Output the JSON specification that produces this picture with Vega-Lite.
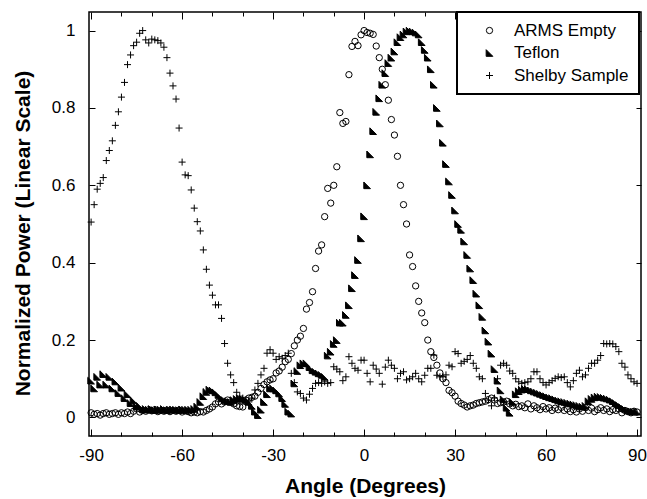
{
"$schema": "https://vega.github.io/schema/vega-lite/v6.json",
"width": 552, "height": 424,
"autosize": "none",
"padding": {"left": 89, "top": 12, "right": 6, "bottom": 63},
"background": "white",
"config": {"view": {"stroke": "black", "strokeWidth": 1.5}, "font": "Liberation Sans", "legend": {"strokeWidth": 2, "labelFontSize": 17, "labelLimit": 0, "symbolOffset": 14, "labelOffset": 16}},
"data": {"values": [
{"angle":-90,"ARMS Empty":0.012,"Teflon":0.095,"Shelby Sample":0.505},
{"angle":-89,"ARMS Empty":0.008,"Teflon":0.075,"Shelby Sample":0.55},
{"angle":-88,"ARMS Empty":0.01,"Teflon":0.105,"Shelby Sample":0.59},
{"angle":-87,"ARMS Empty":0.006,"Teflon":0.085,"Shelby Sample":0.605},
{"angle":-86,"ARMS Empty":0.01,"Teflon":0.112,"Shelby Sample":0.62},
{"angle":-85,"ARMS Empty":0.012,"Teflon":0.085,"Shelby Sample":0.664},
{"angle":-84,"ARMS Empty":0.008,"Teflon":0.105,"Shelby Sample":0.69},
{"angle":-83,"ARMS Empty":0.01,"Teflon":0.075,"Shelby Sample":0.715},
{"angle":-82,"ARMS Empty":0.012,"Teflon":0.093,"Shelby Sample":0.755},
{"angle":-81,"ARMS Empty":0.008,"Teflon":0.063,"Shelby Sample":0.79},
{"angle":-80,"ARMS Empty":0.012,"Teflon":0.077,"Shelby Sample":0.828},
{"angle":-79,"ARMS Empty":0.01,"Teflon":0.05,"Shelby Sample":0.866},
{"angle":-78,"ARMS Empty":0.014,"Teflon":0.06,"Shelby Sample":0.912},
{"angle":-77,"ARMS Empty":0.01,"Teflon":0.037,"Shelby Sample":0.937},
{"angle":-76,"ARMS Empty":0.016,"Teflon":0.044,"Shelby Sample":0.961},
{"angle":-75,"ARMS Empty":0.022,"Teflon":0.028,"Shelby Sample":0.97},
{"angle":-74,"ARMS Empty":0.014,"Teflon":0.03,"Shelby Sample":0.993},
{"angle":-73,"ARMS Empty":0.018,"Teflon":0.021,"Shelby Sample":1.0},
{"angle":-72,"ARMS Empty":0.016,"Teflon":0.022,"Shelby Sample":0.976},
{"angle":-71,"ARMS Empty":0.02,"Teflon":0.02,"Shelby Sample":0.968},
{"angle":-70,"ARMS Empty":0.017,"Teflon":0.022,"Shelby Sample":0.978},
{"angle":-69,"ARMS Empty":0.02,"Teflon":0.019,"Shelby Sample":0.976},
{"angle":-68,"ARMS Empty":0.015,"Teflon":0.021,"Shelby Sample":0.974},
{"angle":-67,"ARMS Empty":0.018,"Teflon":0.02,"Shelby Sample":0.968},
{"angle":-66,"ARMS Empty":0.016,"Teflon":0.022,"Shelby Sample":0.957},
{"angle":-65,"ARMS Empty":0.019,"Teflon":0.019,"Shelby Sample":0.93},
{"angle":-64,"ARMS Empty":0.015,"Teflon":0.02,"Shelby Sample":0.89},
{"angle":-63,"ARMS Empty":0.018,"Teflon":0.021,"Shelby Sample":0.857},
{"angle":-62,"ARMS Empty":0.016,"Teflon":0.02,"Shelby Sample":0.823},
{"angle":-61,"ARMS Empty":0.019,"Teflon":0.019,"Shelby Sample":0.748},
{"angle":-60,"ARMS Empty":0.014,"Teflon":0.021,"Shelby Sample":0.66},
{"angle":-59,"ARMS Empty":0.017,"Teflon":0.02,"Shelby Sample":0.627},
{"angle":-58,"ARMS Empty":0.015,"Teflon":0.02,"Shelby Sample":0.625},
{"angle":-57,"ARMS Empty":0.012,"Teflon":0.02,"Shelby Sample":0.588},
{"angle":-56,"ARMS Empty":0.014,"Teflon":0.022,"Shelby Sample":0.541},
{"angle":-55,"ARMS Empty":0.012,"Teflon":0.028,"Shelby Sample":0.506},
{"angle":-54,"ARMS Empty":0.015,"Teflon":0.04,"Shelby Sample":0.482},
{"angle":-53,"ARMS Empty":0.014,"Teflon":0.055,"Shelby Sample":0.433},
{"angle":-52,"ARMS Empty":0.018,"Teflon":0.066,"Shelby Sample":0.383},
{"angle":-51,"ARMS Empty":0.022,"Teflon":0.072,"Shelby Sample":0.342},
{"angle":-50,"ARMS Empty":0.027,"Teflon":0.07,"Shelby Sample":0.316},
{"angle":-49,"ARMS Empty":0.035,"Teflon":0.065,"Shelby Sample":0.291},
{"angle":-48,"ARMS Empty":0.04,"Teflon":0.058,"Shelby Sample":0.291},
{"angle":-47,"ARMS Empty":0.035,"Teflon":0.05,"Shelby Sample":0.256},
{"angle":-46,"ARMS Empty":0.04,"Teflon":0.045,"Shelby Sample":0.191},
{"angle":-45,"ARMS Empty":0.045,"Teflon":0.042,"Shelby Sample":0.14},
{"angle":-44,"ARMS Empty":0.04,"Teflon":0.04,"Shelby Sample":0.11},
{"angle":-43,"ARMS Empty":0.035,"Teflon":0.045,"Shelby Sample":0.09},
{"angle":-42,"ARMS Empty":0.03,"Teflon":0.048,"Shelby Sample":0.065},
{"angle":-41,"ARMS Empty":0.028,"Teflon":0.05,"Shelby Sample":0.055},
{"angle":-40,"ARMS Empty":0.027,"Teflon":0.048,"Shelby Sample":0.05},
{"angle":-39,"ARMS Empty":0.045,"Teflon":0.045,"Shelby Sample":0.045},
{"angle":-38,"ARMS Empty":0.05,"Teflon":0.04,"Shelby Sample":0.04},
{"angle":-37,"ARMS Empty":0.052,"Teflon":0.03,"Shelby Sample":0.05},
{"angle":-36,"ARMS Empty":0.055,"Teflon":0.015,"Shelby Sample":0.071},
{"angle":-35,"ARMS Empty":0.065,"Teflon":0.006,"Shelby Sample":0.088},
{"angle":-34,"ARMS Empty":0.075,"Teflon":0.02,"Shelby Sample":0.11},
{"angle":-33,"ARMS Empty":0.085,"Teflon":0.04,"Shelby Sample":0.127},
{"angle":-32,"ARMS Empty":0.092,"Teflon":0.06,"Shelby Sample":0.166},
{"angle":-31,"ARMS Empty":0.097,"Teflon":0.075,"Shelby Sample":0.175},
{"angle":-30,"ARMS Empty":0.1,"Teflon":0.075,"Shelby Sample":0.166},
{"angle":-29,"ARMS Empty":0.115,"Teflon":0.07,"Shelby Sample":0.15},
{"angle":-28,"ARMS Empty":0.12,"Teflon":0.062,"Shelby Sample":0.157},
{"angle":-27,"ARMS Empty":0.13,"Teflon":0.05,"Shelby Sample":0.153},
{"angle":-26,"ARMS Empty":0.144,"Teflon":0.035,"Shelby Sample":0.16},
{"angle":-25,"ARMS Empty":0.15,"Teflon":0.015,"Shelby Sample":0.166},
{"angle":-24,"ARMS Empty":0.165,"Teflon":0.01,"Shelby Sample":0.114},
{"angle":-23,"ARMS Empty":0.185,"Teflon":0.088,"Shelby Sample":0.09},
{"angle":-22,"ARMS Empty":0.2,"Teflon":0.12,"Shelby Sample":0.066},
{"angle":-21,"ARMS Empty":0.21,"Teflon":0.135,"Shelby Sample":0.062},
{"angle":-20,"ARMS Empty":0.23,"Teflon":0.14,"Shelby Sample":0.05},
{"angle":-19,"ARMS Empty":0.28,"Teflon":0.14,"Shelby Sample":0.045},
{"angle":-18,"ARMS Empty":0.297,"Teflon":0.13,"Shelby Sample":0.06},
{"angle":-17,"ARMS Empty":0.325,"Teflon":0.122,"Shelby Sample":0.075},
{"angle":-16,"ARMS Empty":0.385,"Teflon":0.118,"Shelby Sample":0.088},
{"angle":-15,"ARMS Empty":0.43,"Teflon":0.114,"Shelby Sample":0.09},
{"angle":-14,"ARMS Empty":0.446,"Teflon":0.11,"Shelby Sample":0.088},
{"angle":-13,"ARMS Empty":0.519,"Teflon":0.105,"Shelby Sample":0.092},
{"angle":-12,"ARMS Empty":0.592,"Teflon":0.16,"Shelby Sample":0.088},
{"angle":-11,"ARMS Empty":0.554,"Teflon":0.17,"Shelby Sample":0.09},
{"angle":-10,"ARMS Empty":0.6,"Teflon":0.19,"Shelby Sample":0.131},
{"angle":-9,"ARMS Empty":0.648,"Teflon":0.2,"Shelby Sample":0.125},
{"angle":-8,"ARMS Empty":0.788,"Teflon":0.245,"Shelby Sample":0.118},
{"angle":-7,"ARMS Empty":0.76,"Teflon":0.245,"Shelby Sample":0.095},
{"angle":-6,"ARMS Empty":0.765,"Teflon":0.265,"Shelby Sample":0.105},
{"angle":-5,"ARMS Empty":0.886,"Teflon":0.29,"Shelby Sample":0.157},
{"angle":-4,"ARMS Empty":0.959,"Teflon":0.334,"Shelby Sample":0.14},
{"angle":-3,"ARMS Empty":0.972,"Teflon":0.368,"Shelby Sample":0.127},
{"angle":-2,"ARMS Empty":0.961,"Teflon":0.407,"Shelby Sample":0.122},
{"angle":-1,"ARMS Empty":0.989,"Teflon":0.463,"Shelby Sample":0.148},
{"angle":0,"ARMS Empty":1.0,"Teflon":0.52,"Shelby Sample":0.148},
{"angle":1,"ARMS Empty":0.995,"Teflon":0.6,"Shelby Sample":0.114},
{"angle":2,"ARMS Empty":0.993,"Teflon":0.68,"Shelby Sample":0.092},
{"angle":3,"ARMS Empty":0.99,"Teflon":0.74,"Shelby Sample":0.135},
{"angle":4,"ARMS Empty":0.96,"Teflon":0.79,"Shelby Sample":0.125},
{"angle":5,"ARMS Empty":0.93,"Teflon":0.825,"Shelby Sample":0.114},
{"angle":6,"ARMS Empty":0.9,"Teflon":0.86,"Shelby Sample":0.086},
{"angle":7,"ARMS Empty":0.86,"Teflon":0.89,"Shelby Sample":0.13},
{"angle":8,"ARMS Empty":0.82,"Teflon":0.916,"Shelby Sample":0.148},
{"angle":9,"ARMS Empty":0.77,"Teflon":0.93,"Shelby Sample":0.135},
{"angle":10,"ARMS Empty":0.73,"Teflon":0.946,"Shelby Sample":0.127},
{"angle":11,"ARMS Empty":0.675,"Teflon":0.97,"Shelby Sample":0.1},
{"angle":12,"ARMS Empty":0.6,"Teflon":0.983,"Shelby Sample":0.114},
{"angle":13,"ARMS Empty":0.55,"Teflon":0.99,"Shelby Sample":0.118},
{"angle":14,"ARMS Empty":0.5,"Teflon":0.998,"Shelby Sample":0.097},
{"angle":15,"ARMS Empty":0.42,"Teflon":1.0,"Shelby Sample":0.1},
{"angle":16,"ARMS Empty":0.39,"Teflon":0.998,"Shelby Sample":0.105},
{"angle":17,"ARMS Empty":0.34,"Teflon":0.995,"Shelby Sample":0.114},
{"angle":18,"ARMS Empty":0.3,"Teflon":0.99,"Shelby Sample":0.1},
{"angle":19,"ARMS Empty":0.27,"Teflon":0.97,"Shelby Sample":0.092},
{"angle":20,"ARMS Empty":0.245,"Teflon":0.95,"Shelby Sample":0.109},
{"angle":21,"ARMS Empty":0.2,"Teflon":0.93,"Shelby Sample":0.127},
{"angle":22,"ARMS Empty":0.17,"Teflon":0.9,"Shelby Sample":0.127},
{"angle":23,"ARMS Empty":0.155,"Teflon":0.86,"Shelby Sample":0.161},
{"angle":24,"ARMS Empty":0.135,"Teflon":0.8,"Shelby Sample":0.109},
{"angle":25,"ARMS Empty":0.115,"Teflon":0.76,"Shelby Sample":0.105},
{"angle":26,"ARMS Empty":0.1,"Teflon":0.71,"Shelby Sample":0.105},
{"angle":27,"ARMS Empty":0.09,"Teflon":0.655,"Shelby Sample":0.11},
{"angle":28,"ARMS Empty":0.07,"Teflon":0.61,"Shelby Sample":0.135},
{"angle":29,"ARMS Empty":0.064,"Teflon":0.575,"Shelby Sample":0.131},
{"angle":30,"ARMS Empty":0.055,"Teflon":0.535,"Shelby Sample":0.17},
{"angle":31,"ARMS Empty":0.042,"Teflon":0.5,"Shelby Sample":0.165},
{"angle":32,"ARMS Empty":0.036,"Teflon":0.485,"Shelby Sample":0.14},
{"angle":33,"ARMS Empty":0.032,"Teflon":0.455,"Shelby Sample":0.145},
{"angle":34,"ARMS Empty":0.027,"Teflon":0.42,"Shelby Sample":0.15},
{"angle":35,"ARMS Empty":0.03,"Teflon":0.385,"Shelby Sample":0.16},
{"angle":36,"ARMS Empty":0.032,"Teflon":0.355,"Shelby Sample":0.14},
{"angle":37,"ARMS Empty":0.036,"Teflon":0.32,"Shelby Sample":0.127},
{"angle":38,"ARMS Empty":0.038,"Teflon":0.29,"Shelby Sample":0.105},
{"angle":39,"ARMS Empty":0.04,"Teflon":0.26,"Shelby Sample":0.1},
{"angle":40,"ARMS Empty":0.042,"Teflon":0.225,"Shelby Sample":0.062},
{"angle":41,"ARMS Empty":0.046,"Teflon":0.196,"Shelby Sample":0.045},
{"angle":42,"ARMS Empty":0.05,"Teflon":0.165,"Shelby Sample":0.03},
{"angle":43,"ARMS Empty":0.045,"Teflon":0.125,"Shelby Sample":0.05},
{"angle":44,"ARMS Empty":0.036,"Teflon":0.095,"Shelby Sample":0.1},
{"angle":45,"ARMS Empty":0.038,"Teflon":0.07,"Shelby Sample":0.135},
{"angle":46,"ARMS Empty":0.04,"Teflon":0.047,"Shelby Sample":0.14},
{"angle":47,"ARMS Empty":0.042,"Teflon":0.025,"Shelby Sample":0.135},
{"angle":48,"ARMS Empty":0.035,"Teflon":0.012,"Shelby Sample":0.12},
{"angle":49,"ARMS Empty":0.03,"Teflon":0.04,"Shelby Sample":0.114},
{"angle":50,"ARMS Empty":0.034,"Teflon":0.06,"Shelby Sample":0.1},
{"angle":51,"ARMS Empty":0.028,"Teflon":0.068,"Shelby Sample":0.092},
{"angle":52,"ARMS Empty":0.03,"Teflon":0.072,"Shelby Sample":0.088},
{"angle":53,"ARMS Empty":0.025,"Teflon":0.074,"Shelby Sample":0.09},
{"angle":54,"ARMS Empty":0.035,"Teflon":0.073,"Shelby Sample":0.092},
{"angle":55,"ARMS Empty":0.022,"Teflon":0.07,"Shelby Sample":0.1},
{"angle":56,"ARMS Empty":0.03,"Teflon":0.067,"Shelby Sample":0.118},
{"angle":57,"ARMS Empty":0.025,"Teflon":0.064,"Shelby Sample":0.118},
{"angle":58,"ARMS Empty":0.02,"Teflon":0.061,"Shelby Sample":0.1},
{"angle":59,"ARMS Empty":0.028,"Teflon":0.058,"Shelby Sample":0.09},
{"angle":60,"ARMS Empty":0.022,"Teflon":0.055,"Shelby Sample":0.084},
{"angle":61,"ARMS Empty":0.025,"Teflon":0.052,"Shelby Sample":0.09},
{"angle":62,"ARMS Empty":0.018,"Teflon":0.05,"Shelby Sample":0.095},
{"angle":63,"ARMS Empty":0.024,"Teflon":0.047,"Shelby Sample":0.101},
{"angle":64,"ARMS Empty":0.02,"Teflon":0.044,"Shelby Sample":0.105},
{"angle":65,"ARMS Empty":0.026,"Teflon":0.042,"Shelby Sample":0.103},
{"angle":66,"ARMS Empty":0.018,"Teflon":0.04,"Shelby Sample":0.105},
{"angle":67,"ARMS Empty":0.022,"Teflon":0.038,"Shelby Sample":0.09},
{"angle":68,"ARMS Empty":0.015,"Teflon":0.036,"Shelby Sample":0.079},
{"angle":69,"ARMS Empty":0.02,"Teflon":0.034,"Shelby Sample":0.095},
{"angle":70,"ARMS Empty":0.014,"Teflon":0.032,"Shelby Sample":0.114},
{"angle":71,"ARMS Empty":0.022,"Teflon":0.03,"Shelby Sample":0.122},
{"angle":72,"ARMS Empty":0.016,"Teflon":0.028,"Shelby Sample":0.105},
{"angle":73,"ARMS Empty":0.025,"Teflon":0.03,"Shelby Sample":0.11},
{"angle":74,"ARMS Empty":0.018,"Teflon":0.042,"Shelby Sample":0.127},
{"angle":75,"ARMS Empty":0.024,"Teflon":0.048,"Shelby Sample":0.14},
{"angle":76,"ARMS Empty":0.015,"Teflon":0.052,"Shelby Sample":0.14},
{"angle":77,"ARMS Empty":0.02,"Teflon":0.054,"Shelby Sample":0.148},
{"angle":78,"ARMS Empty":0.025,"Teflon":0.053,"Shelby Sample":0.16},
{"angle":79,"ARMS Empty":0.018,"Teflon":0.051,"Shelby Sample":0.191},
{"angle":80,"ARMS Empty":0.022,"Teflon":0.049,"Shelby Sample":0.19},
{"angle":81,"ARMS Empty":0.015,"Teflon":0.046,"Shelby Sample":0.191},
{"angle":82,"ARMS Empty":0.02,"Teflon":0.042,"Shelby Sample":0.19},
{"angle":83,"ARMS Empty":0.018,"Teflon":0.037,"Shelby Sample":0.183},
{"angle":84,"ARMS Empty":0.022,"Teflon":0.032,"Shelby Sample":0.17},
{"angle":85,"ARMS Empty":0.012,"Teflon":0.027,"Shelby Sample":0.14},
{"angle":86,"ARMS Empty":0.018,"Teflon":0.022,"Shelby Sample":0.13},
{"angle":87,"ARMS Empty":0.015,"Teflon":0.018,"Shelby Sample":0.11},
{"angle":88,"ARMS Empty":0.012,"Teflon":0.016,"Shelby Sample":0.1},
{"angle":89,"ARMS Empty":0.016,"Teflon":0.015,"Shelby Sample":0.092},
{"angle":90,"ARMS Empty":0.014,"Teflon":0.015,"Shelby Sample":0.088}
]},
"transform": [{"fold": ["ARMS Empty", "Teflon", "Shelby Sample"], "as": ["series", "power"]}],
"layer": [
{
"mark": {"type": "point", "stroke": "black", "strokeWidth": 1, "opacity": 1},
"encoding": {
"x": {"field": "angle", "type": "quantitative",
 "scale": {"domain": [-90.7, 91.3], "nice": false, "zero": false},
 "axis": {"orient": "bottom", "values": [-90,-80,-70,-60,-50,-40,-30,-20,-10,0,10,20,30,40,50,60,70,80,90],
  "labelExpr": "datum.value % 30 === 0 ? toString(datum.value) : ''",
  "tickSize": {"condition": {"test": "datum.value % 30 === 0", "value": -7}, "value": -4},
  "tickColor": "black", "tickWidth": 1, "domain": false, "grid": false,
  "labelFontSize": 17, "labelColor": "black", "labelPadding": 18, "labelFont": "Liberation Sans",
  "title": "Angle (Degrees)", "titleFontSize": 21, "titleFontWeight": "bold", "titleColor": "black", "titleFont": "Liberation Sans", "titlePadding": 12}},
"y": {"field": "power", "type": "quantitative",
 "scale": {"domain": [-0.048, 1.048], "nice": false, "zero": false},
 "axis": {"orient": "left", "values": [0, 0.2, 0.4, 0.6, 0.8, 1],
  "labelExpr": "toString(round(datum.value * 10) / 10)",
  "tickSize": -6, "tickColor": "black", "tickWidth": 1, "domain": false, "grid": false,
  "labelFontSize": 17, "labelColor": "black", "labelPadding": 20, "labelFont": "Liberation Sans",
  "title": "Normalized Power (Linear Scale)", "titleFontSize": 21, "titleFontWeight": "bold", "titleColor": "black", "titleFont": "Liberation Sans", "titlePadding": 18, "titleY": 221}},
"shape": {"field": "series", "type": "nominal",
 "scale": {"domain": ["ARMS Empty", "Teflon", "Shelby Sample"], "range": ["circle", "M-1,-1L-1,1L1,1Z", "M-1,0L1,0M0,-1L0,1"]},
 "legend": {"title": null, "orient": "none", "legendX": 368, "legendY": 0, "strokeColor": "black", "fillColor": "white", "padding": 10, "symbolOffset": 14, "labelOffset": 16, "labelFontSize": 17, "labelFont": "Liberation Sans", "labelColor": "black", "rowPadding": 4.5, "symbolStrokeColor": "black", "symbolStrokeWidth": 1}},
"fill": {"field": "series", "type": "nominal",
 "scale": {"domain": ["ARMS Empty", "Teflon", "Shelby Sample"], "range": ["transparent", "black", "transparent"]}},
"size": {"field": "series", "type": "nominal",
 "scale": {"domain": ["ARMS Empty", "Teflon", "Shelby Sample"], "range": [40, 49, 64]}}
}
},
{
"mark": {"type": "point", "opacity": 0},
"encoding": {
"x": {"field": "angle", "type": "quantitative",
 "scale": {"domain": [-90.7, 91.3], "nice": false, "zero": false},
 "axis": {"orient": "top", "values": [-90,-80,-70,-60,-50,-40,-30,-20,-10,0,10,20,30,40,50,60,70,80,90],
  "labels": false, "title": null, "domain": false, "grid": false,
  "tickSize": {"condition": {"test": "datum.value % 30 === 0", "value": -7}, "value": -4},
  "tickColor": "black", "tickWidth": 1}},
"y": {"field": "power", "type": "quantitative",
 "scale": {"domain": [-0.048, 1.048], "nice": false, "zero": false},
 "axis": {"orient": "right", "values": [0, 0.2, 0.4, 0.6, 0.8, 1],
  "labels": false, "title": null, "domain": false, "grid": false,
  "tickSize": -5, "tickColor": "black", "tickWidth": 1}}
}
}
],
"resolve": {"axis": {"x": "independent", "y": "independent"}}
}
